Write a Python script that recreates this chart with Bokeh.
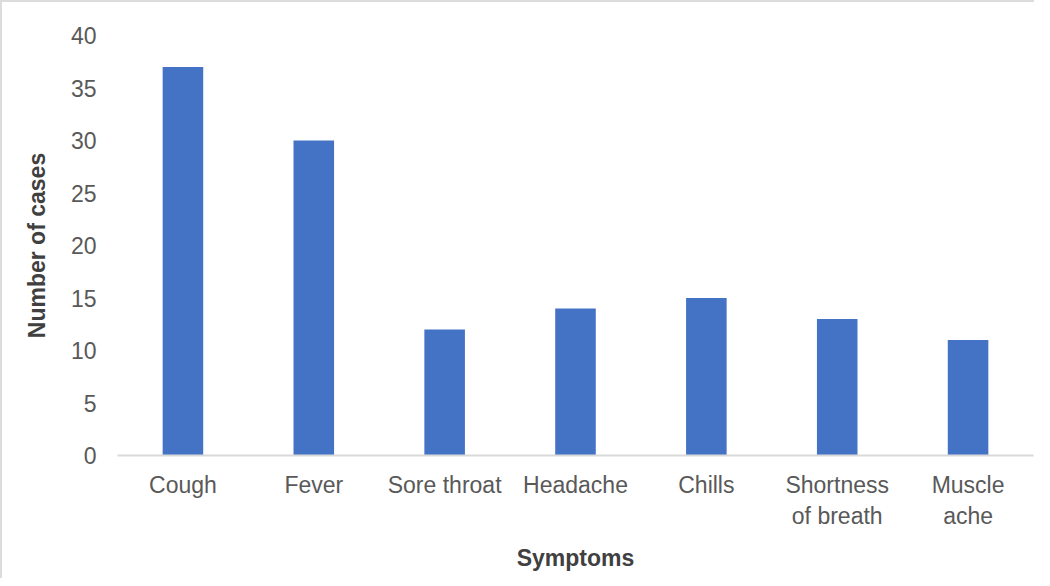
from bokeh.plotting import figure
from bokeh.models import ColumnDataSource, Range1d, FixedTicker
from bokeh.embed import file_html
from bokeh.resources import INLINE

symptoms = ["Cough", "Fever", "Sore throat", "Headache", "Chills", "Shortness\nof breath", "Muscle\nache"]
cases = [37, 30, 12, 14, 15, 13, 11]
y_ticks = [0, 5, 10, 15, 20, 25, 30, 35, 40]

src = ColumnDataSource(dict(x=symptoms, y=cases))

p = figure(x_range=symptoms, y_range=Range1d(0, 40), width=1034, height=578,
           output_backend="svg", toolbar_location=None,
           min_border_left=115, min_border_right=3, min_border_top=33, min_border_bottom=125)
p.styles = {"border-top": "2px solid #dcdcdc", "border-left": "2px solid #dcdcdc"}
p.outline_line_color = None
p.background_fill_color = "white"
p.border_fill_color = "white"

p.vbar(x="x", top="y", width=0.31, source=src, color="#4472C4", line_color=None)

p.xgrid.grid_line_color = None
p.ygrid.grid_line_color = None
p.x_range.range_padding = 0

p.yaxis.ticker = FixedTicker(ticks=y_ticks)
for ax in (p.xaxis[0], p.yaxis[0]):
    ax.major_tick_line_color = None
    ax.minor_tick_line_color = None
    ax.major_label_text_font = "Liberation Sans"
    ax.major_label_text_font_size = "23px"
    ax.major_label_text_color = "#595959"
    ax.axis_label_text_font = "Liberation Sans"
    ax.axis_label_text_font_size = "23px"
    ax.axis_label_text_font_style = "bold"
    ax.axis_label_text_color = "#404040"

p.yaxis.axis_line_color = None
p.yaxis.major_label_standoff = 15
p.yaxis.axis_label = "Number of cases"
p.yaxis.axis_label_standoff = 18

p.xaxis.axis_line_color = "#d9d9d9"
p.xaxis.axis_line_width = 2
p.xaxis.major_label_standoff = 10
p.xaxis.axis_label = "Symptoms"
p.xaxis.axis_label_standoff = 13

open("out.html", "w").write(file_html(p, INLINE))
